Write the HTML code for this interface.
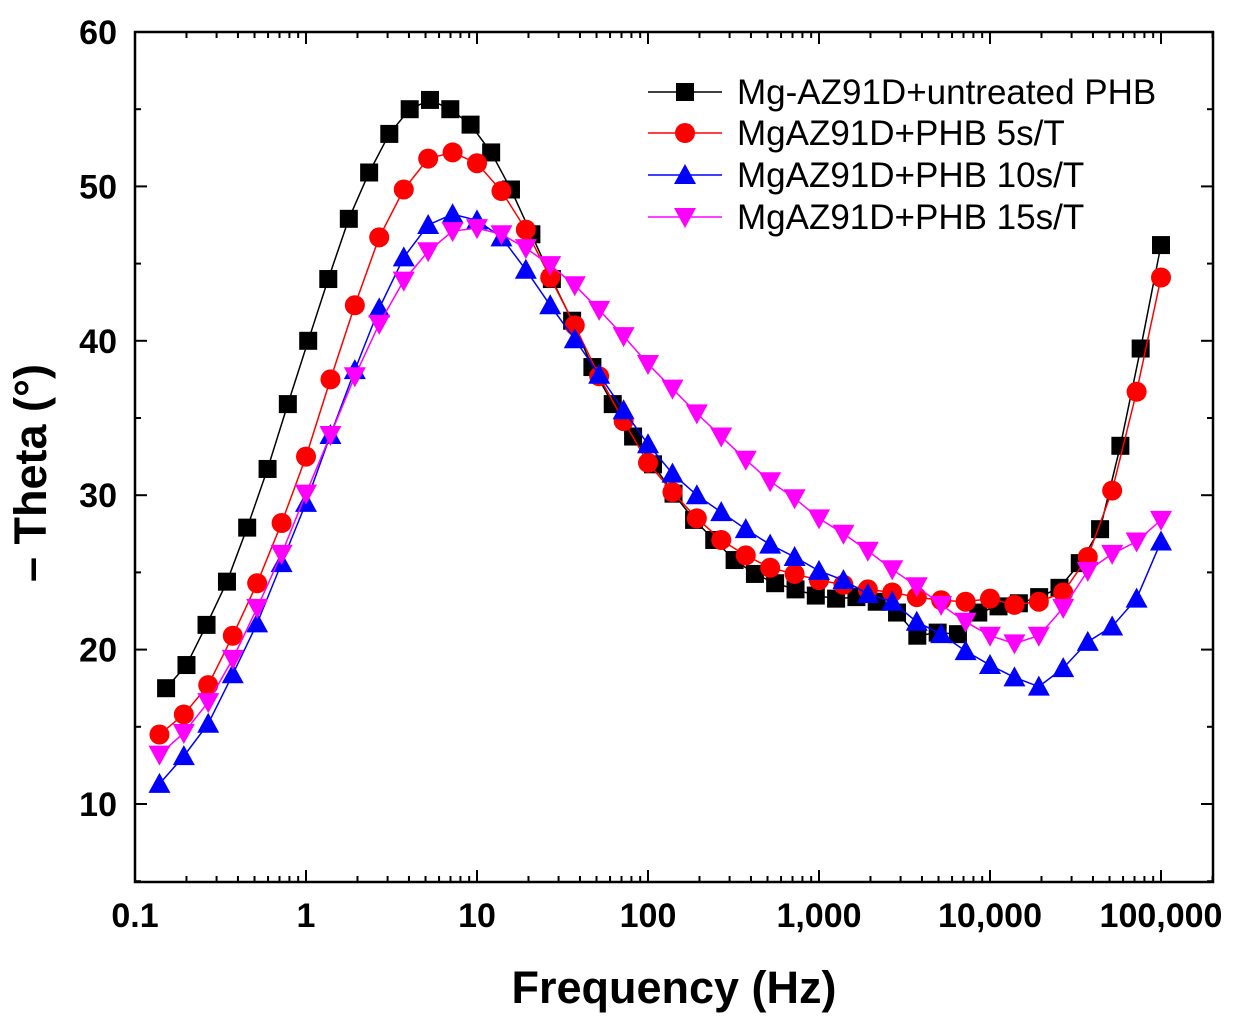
<!DOCTYPE html>
<html><head><meta charset="utf-8"><style>
html,body{margin:0;padding:0;background:#fff;}
svg{display:block;font-family:"Liberation Sans",Arial,sans-serif;}
</style></head><body>
<svg id="chart" width="1240" height="1023" viewBox="0 0 1240 1023" xmlns="http://www.w3.org/2000/svg">
<g id="axes"></g><g id="series"></g><g id="legend"></g>
</svg>
<script>
const freqBlack = [0.152,0.2,0.262,0.345,0.453,0.596,0.783,1.03,1.35,1.78,2.34,3.07,4.04,5.31,6.98,9.17,12.1,15.8,20.8,27.4,36.0,47.3,62.2,81.8,107,141,186,244,321,422,554,729,958,1259,1655,2176,2860,3758,4942,6494,8540,11220,14750,19390,25490,33500,44030,57870,76040,100000];
const freqSeven = [0.139,0.193,0.268,0.373,0.518,0.72,1,1.39,1.93,2.68,3.73,5.18,7.2,10,13.9,19.3,26.8,37.3,51.8,72,100,139,193,268,373,518,720,1000,1390,1930,2680,3730,5180,7200,10000,13900,19300,26800,37300,51800,72000,100000];
const valBlack = [17.5,19,21.6,24.4,27.9,31.7,35.9,40,44,47.9,50.9,53.4,55,55.6,55,54,52.2,49.8,46.9,44,41.3,38.3,35.9,33.8,32,30.1,28.4,27.1,25.8,24.9,24.3,23.9,23.5,23.3,23.4,23.1,22.4,20.9,21.1,21,22.4,22.8,23,23.4,24,25.6,27.8,33.2,39.5,46.2];
const valRed = [14.5,15.8,17.7,20.9,24.3,28.2,32.5,37.5,42.3,46.7,49.8,51.8,52.2,51.5,49.7,47.2,44.1,41,37.7,34.8,32.1,30.2,28.5,27.1,26.1,25.3,24.9,24.5,24.2,23.9,23.7,23.4,23.2,23.1,23.3,22.9,23.1,23.7,26,30.3,36.7,44.1];
const valBlue = [11.3,13.1,15.2,18.4,21.7,25.6,29.5,33.9,38.1,42.1,45.4,47.5,48.2,47.8,46.7,44.6,42.3,40.1,37.8,35.5,33.3,31.4,30,28.9,27.8,26.8,26,25.1,24.5,23.6,23.1,21.8,21,19.9,19,18.2,17.6,18.8,20.5,21.5,23.3,27];
const valMagenta = [13.2,14.6,16.6,19.4,22.7,26.2,30.1,33.9,37.7,41.1,43.9,45.8,47.1,47.3,46.9,46,44.9,43.6,42,40.3,38.5,36.9,35.3,33.8,32.3,30.9,29.8,28.5,27.5,26.4,25.2,24.1,22.9,21.8,20.9,20.4,20.9,22.7,25.1,26.2,27,28.4];
const seriesNames = ["Mg-AZ91D+untreated PHB","MgAZ91D+PHB 5s/T","MgAZ91D+PHB 10s/T","MgAZ91D+PHB 15s/T"];
const xTickLabels = ["0.1","1","10","100","1,000","10,000","100,000"];
const xTickVals = [0.1,1,10,100,1000,10000,100000];
const yTickVals = [10,20,30,40,50,60];

const NS="http://www.w3.org/2000/svg";
const L=135,R=1213,T=32,B=882;
const xs=v=>135+(Math.log10(v)+1)*171;
const ys=v=>32+(60-v)*15.44;
function mk(tag,attrs,parent,text){const e=document.createElementNS(NS,tag);for(const k in attrs)e.setAttribute(k,attrs[k]);if(text!==undefined)e.textContent=text;parent.appendChild(e);return e;}
const ax=document.getElementById('axes');
const frame=mk('rect',{x:L,y:T,width:R-L,height:B-T,fill:'none',stroke:'#000','stroke-width':2.5},ax);


for(let d=-1;d<=5;d++){for(let m=1;m<10;m++){const v=m*Math.pow(10,d);const x=xs(v);if(x<L||x>R)continue;const len=m===1?12:6;
mk('line',{x1:x,y1:B,x2:x,y2:B-len,stroke:'#000','stroke-width':2},ax);mk('line',{x1:x,y1:T,x2:x,y2:T+len,stroke:'#000','stroke-width':2},ax);}}
xTickVals.forEach((v,i)=>{const t=mk('text',{x:xs(v),y:927,'text-anchor':'middle','font-size':34,'font-weight':'bold'},ax,xTickLabels[i]);

});
for(let v=5;v<=60;v+=5){const y=ys(v);const len=v%10===0?12:6;
mk('line',{x1:L,y1:y,x2:L+len,y2:y,stroke:'#000','stroke-width':2},ax);mk('line',{x1:R,y1:y,x2:R-len,y2:y,stroke:'#000','stroke-width':2},ax);}
yTickVals.forEach(v=>{const t=mk('text',{x:117,y:ys(v)+12,'text-anchor':'end','font-size':34,'font-weight':'bold'},ax,String(v));

});
const xt=mk('text',{x:674,y:1003,'text-anchor':'middle','font-size':45,'font-weight':'bold'},ax,'Frequency (Hz)');


const yt=mk('text',{x:0,y:0,transform:'translate(46,473) rotate(-90)','text-anchor':'middle','font-size':45,'font-weight':'bold'},ax,'\u2013 Theta (\u00b0)');



function marker(shape,color,x,y,g){
 if(shape==='sq')return mk('rect',{x:x-9,y:y-9,width:18,height:18,fill:color},g);
 if(shape==='ci')return mk('circle',{cx:x,cy:y,r:10,fill:color},g);
 if(shape==='up')return mk('polygon',{points:`${x},${y-11} ${x-11},${y+9} ${x+11},${y+9}`,fill:color},g);
 return mk('polygon',{points:`${x},${y+11} ${x-11},${y-9} ${x+11},${y-9}`,fill:color},g);
}
const sg=document.getElementById('series');
const defs=[[freqBlack,valBlack,'#000','sq','series-untreated'],[freqSeven,valRed,'#ff0000','ci','series-5s'],[freqSeven,valBlue,'#0000ff','up','series-10s'],[freqSeven,valMagenta,'#ff00ff','dn','series-15s']];
defs.forEach(([f,v,c,s,n])=>{const g=mk('g',{},sg);
 
 
 const pts=f.map((fr,i)=>xs(fr)+','+ys(v[i])).join(' ');
 mk('polyline',{points:pts,fill:'none',stroke:c,'stroke-width':1.5},g);
 f.forEach((fr,i)=>{const m=marker(s,c,xs(fr),ys(v[i]),g);
  
  });
});
const lg=document.getElementById('legend');


const ly=[92,133,175,217];
defs.forEach(([f,v,c,s],i)=>{const g=mk('g',{},lg);
 
 
 mk('line',{x1:648,y1:ly[i],x2:722,y2:ly[i],stroke:c,'stroke-width':1.5},g);
 marker(s,c,685,ly[i],g);
 mk('text',{x:737,y:ly[i]+12,'font-size':35},g,seriesNames[i]);
});
</script>
</body></html>
